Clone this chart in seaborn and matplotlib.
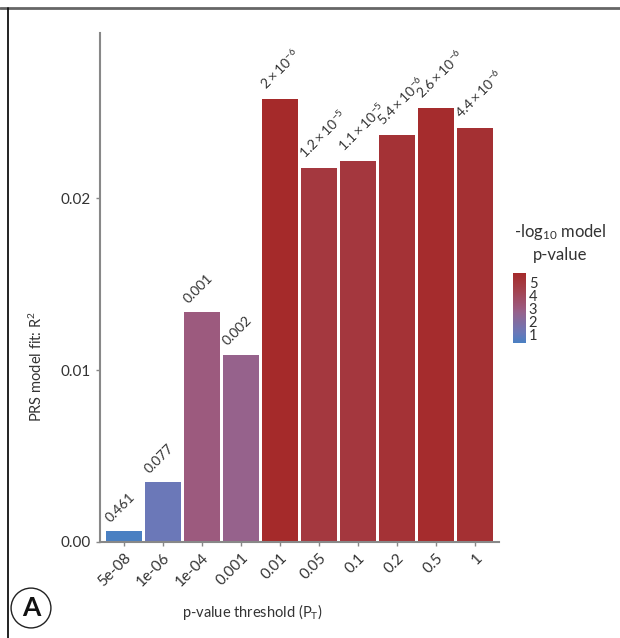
import matplotlib
matplotlib.use('Agg')
import matplotlib.pyplot as plt
from matplotlib.colors import LinearSegmentedColormap, Normalize
from matplotlib.cm import ScalarMappable
from matplotlib.lines import Line2D
import numpy as np
import pandas as pd
import seaborn as sns

# Data
thresholds = ['5e-08', '1e-06', '1e-04', '0.001', '0.01', '0.05', '0.1', '0.2', '0.5', '1']
r2 = [0.00064, 0.0035, 0.01335, 0.0109, 0.02577, 0.02175, 0.02216, 0.02367, 0.02525, 0.02408]
model_p = [0.461, 0.077, 0.001, 0.002, 2e-6, 1.2e-5, 1.1e-5, 5.4e-6, 2.6e-6, 4.4e-6]
p_labels = ['0.461', '0.077', '0.001', '0.002',
            r'$\mathregular{2\times10^{-6}}$', r'$\mathregular{1.2\times10^{-5}}$',
            r'$\mathregular{1.1\times10^{-5}}$', r'$\mathregular{5.4\times10^{-6}}$',
            r'$\mathregular{2.6\times10^{-6}}$', r'$\mathregular{4.4\times10^{-6}}$']

sns.set_style('white')
plt.rcParams['font.family'] = ['Lato', 'DejaVu Sans']
plt.rcParams['mathtext.fontset'] = 'custom'
plt.rcParams['mathtext.rm'] = 'Lato'
plt.rcParams['mathtext.it'] = 'Lato:italic'

text_col = '#333333'

df = pd.DataFrame({'threshold': thresholds, 'r2': r2, 'logp': -np.log10(model_p)})

# blue -> purple -> red gradient
cmap = LinearSegmentedColormap.from_list(
    'prs', [(0.0, '#4A80C2'), (0.145, '#6B78B8'), (0.44, '#96628C'),
            (0.50, '#9C5A7E'), (0.75, '#A3424F'), (1.0, '#A52A2A')])
norm = Normalize(vmin=df['logp'].min(), vmax=df['logp'].max())
palette = [cmap(norm(v)) for v in df['logp']]

fig = plt.figure(figsize=(6.2, 6.38), dpi=100)
ax = fig.add_axes([0.1613, 0.1505, 0.6435, 0.7978])

sns.barplot(data=df, x='threshold', y='r2', hue='threshold', palette=palette,
            legend=False, width=0.915, saturation=1, ax=ax, edgecolor='none')

# p-value labels above the bars
for i, (h, lab) in enumerate(zip(r2, p_labels)):
    ax.text(i - 0.3, h + 0.0004, lab, rotation=45, rotation_mode='anchor',
            ha='left', va='bottom', fontsize=10, color=text_col)

ax.set_xlim(-0.615, 9.615)
ax.set_ylim(0, 0.0296)
ax.set_yticks([0.0, 0.01, 0.02])
ax.set_yticklabels(['0.00', '0.01', '0.02'])
ax.tick_params(axis='both', labelsize=11, labelcolor=text_col, color='#888888',
               length=3, width=1, direction='out', bottom=True, left=True)
plt.setp(ax.get_xticklabels(), rotation=45, ha='right', rotation_mode='anchor')
sns.despine(ax=ax)
for s in ['left', 'bottom']:
    ax.spines[s].set_color('#888888')
    ax.spines[s].set_linewidth(1.5)

ax.set_xlabel(r'p-value threshold ($\mathregular{P_T}$)', fontsize=10.5,
              color=text_col, labelpad=12)
ax.xaxis.set_label_coords(0.381, -0.118)
ax.set_ylabel(r'PRS model fit: $\mathregular{R^2}$', fontsize=10.5,
              color=text_col, labelpad=12)
ax.yaxis.set_label_coords(-0.138, 0.345)

# colour bar legend
cax = fig.add_axes([0.8274, 0.4624, 0.0210, 0.1097])
sm = ScalarMappable(norm=norm, cmap=cmap)
cb = fig.colorbar(sm, cax=cax, ticks=[1, 2, 3, 4, 5])
cb.outline.set_visible(False)
cax.tick_params(direction='in', color='white', length=3, width=0.8,
                labelsize=10.5, labelcolor=text_col, pad=2)
fig.text(0.903, 0.636, r'-log$\mathregular{_{10}}$ model', ha='center', va='center',
         fontsize=12, color=text_col)
fig.text(0.903, 0.601, 'p-value', ha='center', va='center', fontsize=12, color=text_col)

# panel letter
fig.text(0.050, 0.047, 'A', ha='center', va='center', fontsize=19, fontweight='bold',
         color='#111111',
         bbox=dict(boxstyle='circle,pad=0.3', facecolor='white', edgecolor='#222222', lw=1))

# frame lines at top and left
fig.add_artist(Line2D([0, 1], [1 - 7.5 / 638, 1 - 7.5 / 638], transform=fig.transFigure,
                      color='#666666', lw=2))
fig.add_artist(Line2D([7.5 / 620, 7.5 / 620], [0, 1 - 7.5 / 638], transform=fig.transFigure,
                      color='#111111', lw=1.3))

fig.savefig('out.png', dpi=100)
